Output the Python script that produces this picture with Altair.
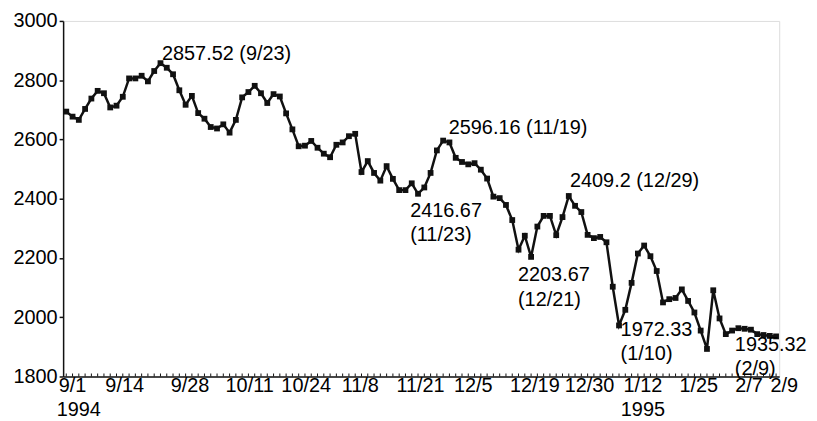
import altair as alt
import pandas as pd

FONT = "Liberation Sans"
INK = "#111111"

# daily index values (trading days, 9/1/1994 .. 2/9/1995)
values = [
    2694, 2677, 2666, 2703, 2738, 2764, 2756, 2708, 2714, 2744,
    2806, 2806, 2815, 2796, 2831, 2857.52, 2842, 2820, 2766, 2717,
    2747, 2689, 2670, 2642, 2637, 2651, 2623, 2666, 2742, 2760,
    2781, 2756, 2723, 2753, 2745, 2688, 2634, 2577, 2579, 2595,
    2572, 2552, 2540, 2582, 2590, 2611, 2619, 2490, 2527, 2487,
    2461, 2510, 2467, 2429, 2429, 2452, 2416.67, 2438, 2487, 2563,
    2596.16, 2590, 2538, 2524, 2516, 2520, 2498, 2468, 2407, 2402,
    2379, 2328, 2228, 2275, 2203.67, 2306, 2342, 2342, 2277, 2338,
    2409.2, 2376, 2355, 2278, 2267, 2271, 2253, 2103, 1972.33, 2025,
    2116, 2215, 2242, 2206, 2156, 2050, 2061, 2065, 2094, 2055,
    2016, 1955, 1893, 2091, 1996, 1943, 1955, 1963, 1961, 1958,
    1943, 1940, 1937, 1935.32,
]

x_labels = ["9/1", "9/14", "9/28", "10/11", "10/24", "11/8", "11/21",
            "12/5", "12/19", "12/30", "1/12", "1/25", "2/7", "2/9"]
x_label_pos = [1.0, 9.3, 19.7, 29.2, 38.2, 46.8, 56.4,
               64.8, 74.6, 83.3, 91.8, 100.7, 108.7, 114.3]
years = ["1994", "1995"]
year_pos = [2.0, 91.8]
y_ticks = [1800, 2000, 2200, 2400, 2600, 2800, 3000]

# annotated extremes: index into values, date text, two-line?
ann_idx = [15, 60, 56, 74, 80, 88, 113]
ann_dates = ["9/23", "11/19", "11/23", "12/21", "12/29", "1/10", "2/9"]
ann_two_line = [False, False, True, True, False, True, True]
ann_dx = [1.5, 5.6, -7.9, -13.2, 1.2, 1.6, -41.5]
ann_dy = [-3, -6.8, 23, 24.4, -8.7, 10.3, 14.3]

n = len(values)
df = pd.DataFrame({"i": list(range(n)), "v": values})

X_SCALE = alt.Scale(domain=[-0.5, n - 0.5], nice=False, zero=False)
Y_SCALE = alt.Scale(domain=[y_ticks[0], y_ticks[-1]], nice=False, zero=False)

x_axis = alt.Axis(labels=False, ticks=False, grid=False, title=None,
                  domainColor=INK, domainWidth=1.5)
y_axis = alt.Axis(values=y_ticks, format="d", grid=False, title=None,
                  tickSize=4, tickColor=INK, tickWidth=1.5, domainColor=INK,
                  domainWidth=1.5, labelFont=FONT, labelFontSize=20,
                  labelColor="black", labelPadding=2)

base = alt.Chart(df)

line = base.mark_line(color=INK, strokeWidth=2.5).encode(
    x=alt.X("i:Q", scale=X_SCALE, axis=x_axis),
    y=alt.Y("v:Q", scale=Y_SCALE, axis=y_axis),
)

points = base.mark_point(shape="square", filled=True, size=34,
                         color=INK, opacity=1).encode(
    x=alt.X("i:Q", scale=X_SCALE),
    y=alt.Y("v:Q", scale=Y_SCALE),
)

minor = base.mark_rule(color=INK, strokeWidth=1, y2Offset=-3).encode(
    x=alt.X("i:Q", scale=X_SCALE),
    y=alt.Y(datum=y_ticks[0], scale=Y_SCALE),
    y2=alt.Y2(datum=y_ticks[0]),
)

lab_df = pd.DataFrame({"pos": x_label_pos, "lab": x_labels})
tick_labels = alt.Chart(lab_df).mark_text(
    font=FONT, fontSize=20, color="black", align="center",
    baseline="alphabetic", dy=16,
).encode(
    x=alt.X("pos:Q", scale=X_SCALE),
    y=alt.Y(datum=y_ticks[0], scale=Y_SCALE),
    text="lab:N",
)

yr_df = pd.DataFrame({"pos": year_pos, "lab": years})
year_labels = alt.Chart(yr_df).mark_text(
    font=FONT, fontSize=20, color="black", align="center",
    baseline="alphabetic", dy=40,
).encode(
    x=alt.X("pos:Q", scale=X_SCALE),
    y=alt.Y(datum=y_ticks[0], scale=Y_SCALE),
    text="lab:N",
)

ann_layers = []
for k, idx in enumerate(ann_idx):
    v = values[idx]
    sep = "\n" if ann_two_line[k] else " "
    txt = f"{v:g}{sep}({ann_dates[k]})"
    adf = pd.DataFrame({"i": [idx], "v": [v], "t": [txt]})
    ann_layers.append(
        alt.Chart(adf).mark_text(
            font=FONT, fontSize=20, color="black", align="left",
            baseline="alphabetic", lineBreak="\n", lineHeight=25,
            dx=ann_dx[k], dy=ann_dy[k],
        ).encode(
            x=alt.X("i:Q", scale=X_SCALE),
            y=alt.Y("v:Q", scale=Y_SCALE),
            text="t:N",
        )
    )

chart = alt.layer(line, points, minor, tick_labels, year_labels, *ann_layers).properties(
    width=721,
    height=358,
    autosize=alt.AutoSizeParams(type="none"),
    padding={"left": 55.5, "top": 11.6, "right": 30, "bottom": 46},
).configure_view(stroke=None).configure(background="white")

chart.save("out.html", embed_options={"renderer": "svg", "actions": False})
